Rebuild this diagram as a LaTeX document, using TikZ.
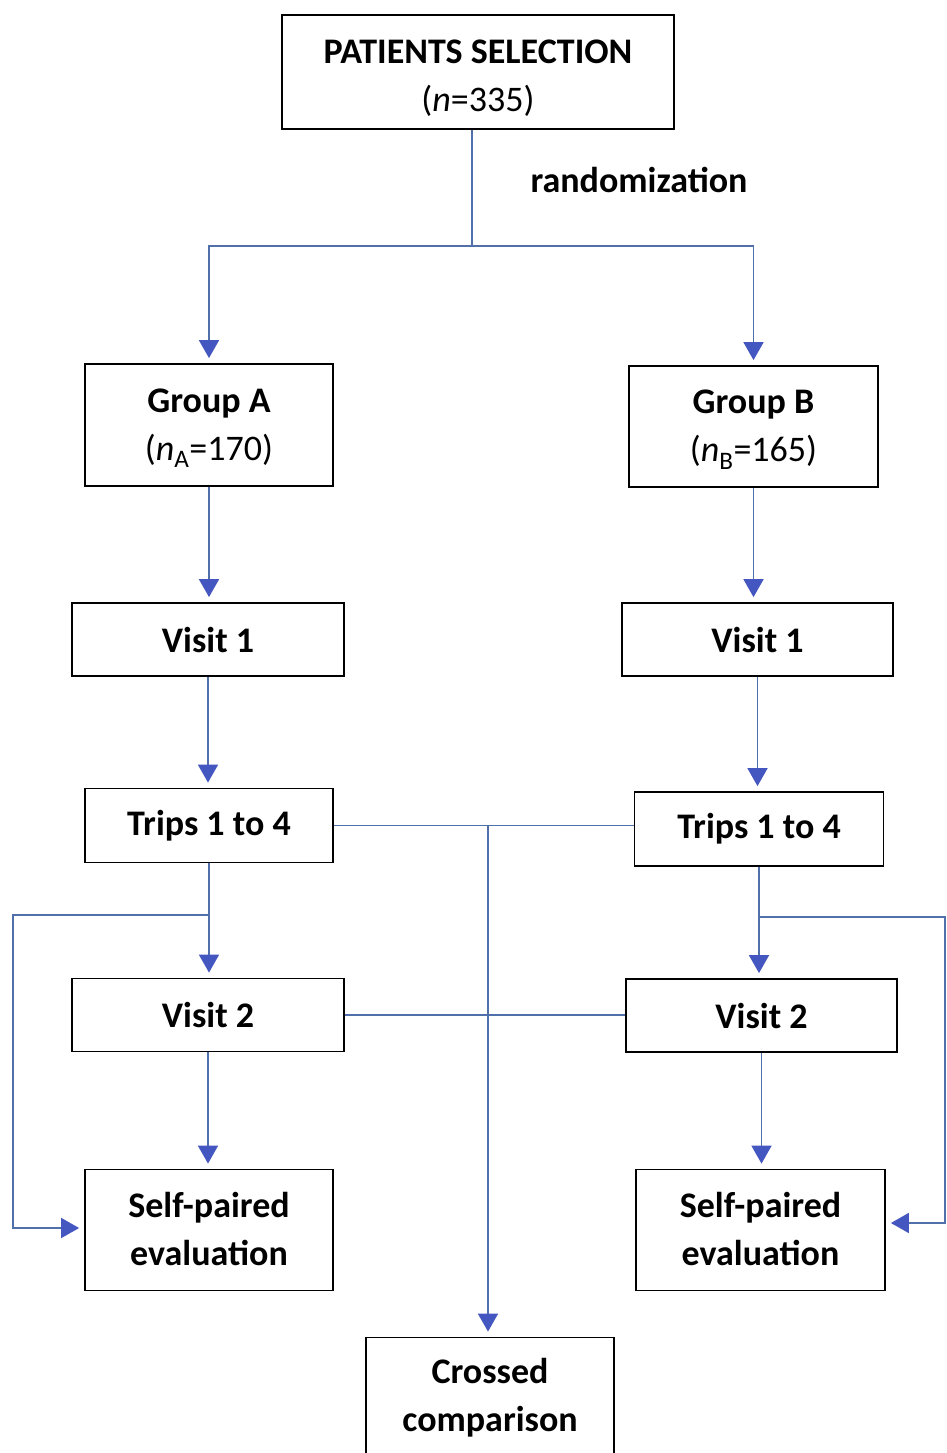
\documentclass[tikz,border=0pt]{standalone}
\usepackage{fontspec}
\setmainfont{Carlito}
\usetikzlibrary{arrows.meta,calc}
\definecolor{linecol}{RGB}{80,112,172}
\definecolor{arrowcol}{RGB}{68,86,192}
\newcommand\topstrut[1]{\rule{0pt}{#1}}
\newcommand\botstrut{\rule[-10pt]{0pt}{10pt}}
\begin{document}
\begin{tikzpicture}[x=1pt,y=-1pt,
  box/.style={draw=black,line width=1.8pt,inner sep=0pt,align=center,
    font=\fontsize{36}{48}\selectfont\bfseries},
  conn/.style={draw=linecol,line width=1.7pt},
  arr/.style={conn,-{Triangle[width=20pt,length=18pt,color=arrowcol]},shorten >=5pt},
  lbl/.style={font=\fontsize{36}{48}\selectfont\bfseries}]
\clip (0,0) rectangle (946,1453);
\fill[white] (0,0) rectangle (946,1453);
% boxes
\node[box,minimum width=392pt,minimum height=114pt] (ps) at (478,72)
  {\topstrut{42pt}PATIENTS SELECTION\\\mdseries(\textit{n}=335)\botstrut};
\node[box,minimum width=248pt,minimum height=122pt] (ga) at (209,425)
  {\topstrut{32pt}Group A\\\mdseries(\textit{n}\textsubscript{A}=170)\botstrut};
\node[box,minimum width=249pt,minimum height=121pt] (gb) at (753.5,426.5)
  {\topstrut{32pt}Group B\\\mdseries(\textit{n}\textsubscript{B}=165)\botstrut};
\node[box,minimum width=272pt,minimum height=73pt] (v1a) at (208,639.5) {Visit 1};
\node[box,minimum width=271pt,minimum height=73pt] (v1b) at (757.5,639.5) {Visit 1};
\node[box,minimum width=248pt,minimum height=74pt] (ta) at (209,825.5) {Trips 1 to 4};
\node[box,minimum width=249pt,minimum height=74pt] (tb) at (759,829) {Trips 1 to 4};
\node[box,minimum width=272pt,minimum height=73pt] (v2a) at (208,1015) {Visit 2};
\node[box,minimum width=271pt,minimum height=73pt] (v2b) at (761.5,1015.5) {Visit 2};
\node[box,minimum width=248pt,minimum height=121pt] (sa) at (209,1230)
  {\topstrut{32pt}Self-paired\\evaluation\botstrut};
\node[box,minimum width=249pt,minimum height=121pt] (sb) at (760.5,1230)
  {\topstrut{32pt}Self-paired\\evaluation\botstrut};
\node[box,minimum width=248pt,minimum height=118pt] (cc) at (490,1396.5)
  {\topstrut{32pt}Crossed\\comparison\botstrut};
\node[lbl] (rand) at (639,180) {randomization};
% randomization split
\coordinate (split) at (472,246);
\draw[conn] (split |- ps.south) -- (split);
\draw[arr] (split) -| (ga.north);
\draw[arr] (split) -| (gb.north);
% column A
\draw[arr] (ga.south) -- (ga.south |- v1a.north);
\draw[arr] (v1a.south) -- (v1a.south |- ta.north);
\draw[arr] (ta.south) -- (ta.south |- v2a.north);
\draw[arr] (v2a.south) -- (v2a.south |- sa.north);
% column B
\draw[arr] (gb.south) -- (gb.south |- v1b.north);
\draw[arr] (v1b.south) -- (v1b.south |- tb.north);
\draw[arr] (tb.south) -- (tb.south |- v2b.north);
\draw[arr] (v2b.south) -- (v2b.south |- sb.north);
% left loop
\coordinate (la) at (209,915);
\coordinate (lx) at (13,1228);
\draw[arr] (la) -| (lx) -- (lx -| sa.west);
% right loop
\coordinate (rb) at (759,917);
\coordinate (rx) at (945,1223);
\draw[arr] (rb) -| (rx) -- (rx -| sb.east);
% crossed comparison
\draw[conn] (ta.east) -- (ta.east -| tb.west);
\coordinate (cx) at (488,825.5);
\draw[arr] (cx) -- (cx |- cc.north);
\draw[conn] (v2a.east) -- (v2a.east -| v2b.west);
\end{tikzpicture}
\end{document}
